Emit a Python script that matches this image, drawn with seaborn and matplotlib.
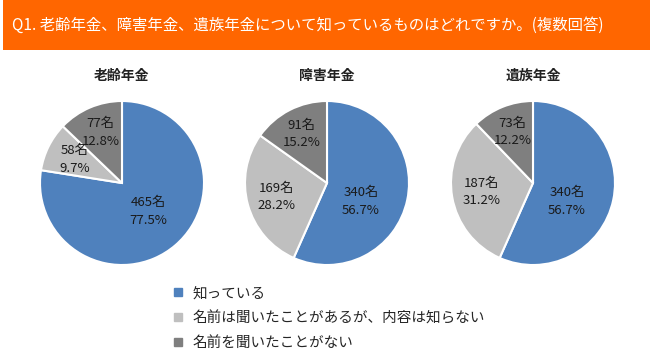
import numpy as np
import matplotlib
matplotlib.use("Agg")
import matplotlib.pyplot as plt
from matplotlib.lines import Line2D
from matplotlib.patches import Rectangle
import seaborn as sns

# data
pensions = ["老齢年金", "障害年金", "遺族年金"]
answers = ["知っている", "名前は聞いたことがあるが、内容は知らない", "名前を聞いたことがない"]
counts = [[465, 58, 77], [340, 169, 91], [340, 187, 73]]
percents = [[77.5, 9.7, 12.8], [56.7, 28.2, 15.2], [56.7, 31.2, 12.2]]
title = "Q1. 老齢年金、障害年金、遺族年金について知っているものはどれですか。(複数回答)"

sns.set_theme(style="white")
plt.rcParams["font.family"] = ["Noto Sans CJK JP", "DejaVu Sans"]

colors = ["#4F81BD", "#BFBFBF", "#7F7F7F"]
label_dist = [0.47, 0.64, 0.67]

W, H = 650, 359
fig = plt.figure(figsize=(W / 100, H / 100), dpi=100)

# orange header banner
fig.patches.append(Rectangle((3 / W, 1 - 50 / H), 1, 50 / H, transform=fig.transFigure,
                             facecolor="#FF6600", edgecolor="none", zorder=0))
fig.text(12 / W, 1 - 25 / H, title, color="white", fontsize=11.1, va="center", ha="left")

centers = [(122, 183), (327, 183), (533, 183)]
r = 82
for i, name in enumerate(pensions):
    cx, cy = centers[i]
    ax = fig.add_axes([(cx - r) / W, 1 - (cy + r) / H, 2 * r / W, 2 * r / H])
    wedges, _ = ax.pie(counts[i], colors=colors, startangle=90, counterclock=False,
                       wedgeprops=dict(edgecolor="white", linewidth=1.5))
    for j, w in enumerate(wedges):
        mid = (w.theta1 + w.theta2) / 2
        if j == 0:
            # big slice: label pulled toward the lower right like Excel's best fit
            mid = (mid - 45) / 2
        mid = np.deg2rad(mid)
        d = label_dist[j]
        ax.text(d * np.cos(mid), d * np.sin(mid), f"{counts[i][j]}名\n{percents[i][j]}%",
                ha="center", va="center", fontsize=9.5, color="#1a1a1a", linespacing=1.45)
    ax.set_xlim(-1, 1)
    ax.set_ylim(-1, 1)
    ax.set_aspect("equal")
    fig.text(cx / W, 1 - 76 / H, name, ha="center", va="center", fontsize=10,
             fontweight="bold", color="#222222")

handles = [Line2D([], [], marker="s", color=c, linestyle="none", markersize=6) for c in colors]
fig.legend(handles, answers, loc="upper left", bbox_to_anchor=(165 / W, 1 - 279 / H),
           frameon=False, fontsize=10.5, handlelength=0.8, handletextpad=0.6,
           labelspacing=0.75, borderpad=0)

fig.savefig("out.png", dpi=100)
